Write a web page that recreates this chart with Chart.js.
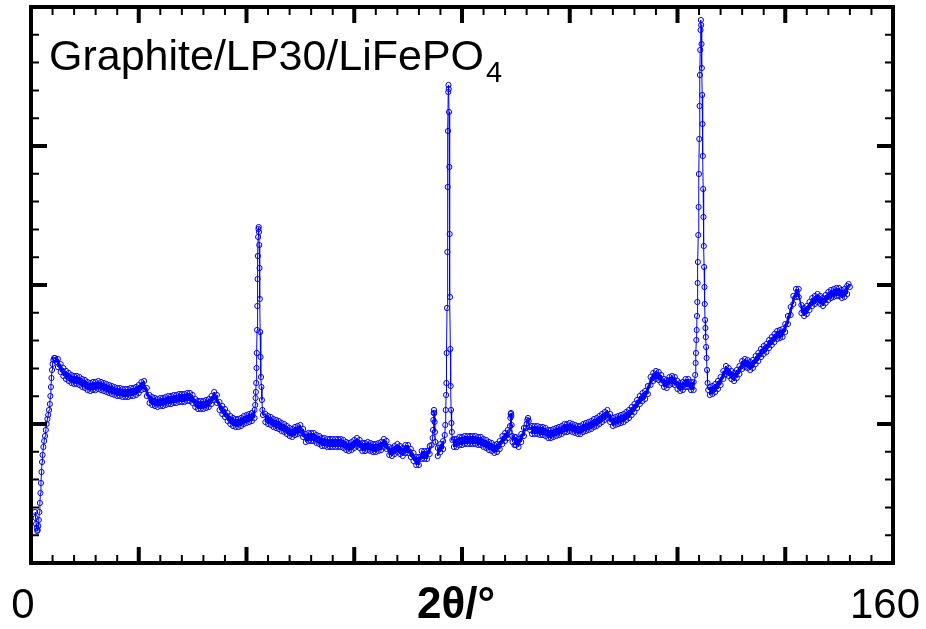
<!DOCTYPE html>
<html>
<head>
<meta charset="utf-8">
<title>Graphite/LP30/LiFePO4</title>
<script src="https://cdn.jsdelivr.net/npm/chart.js@4.4.1/dist/chart.umd.min.js"></script>
<style>
  html, body { margin: 0; padding: 0; background: #fff; }
  #wrap { width: 926px; height: 629px; }
</style>
</head>
<body>
<div id="wrap"><canvas id="chart" width="926" height="629"></canvas></div>
<script>
// 2theta (deg) and intensity (counts).
// Sharp parts are [2theta, counts]; the noisy background is read as
// [2theta, top of band, bottom of band].
const onset = [
  [0.75, 510], [0.85, 450], [0.95, 390], [1.05, 350], [1.15, 320], [1.25, 330], [1.35, 370],
  [1.45, 430], [1.55, 510], [1.65, 600], [1.75, 700], [1.85, 800], [1.95, 910], [2.05, 1010],
  [2.15, 1080], [2.3, 1160], [2.45, 1220], [2.6, 1270], [2.75, 1330], [2.9, 1390], [3.05, 1440],
  [3.2, 1480], [3.35, 1530], [3.5, 1590], [3.6, 1670], [3.7, 1760], [3.8, 1850], [3.9, 1930],
  [4.0, 1990], [4.15, 2030], [4.3, 2050], [4.45, 2050], [4.6, 2030], [4.8, 2010]
];
const bandA = [
  [5, 2040, 1960], [5.5, 1990, 1910], [6, 1950, 1870], [6.5, 1920, 1840], [7, 1900, 1820], [7.5, 1880, 1800],
  [8, 1870, 1790], [8.5, 1870, 1790], [9, 1860, 1780], [9.5, 1840, 1760], [10, 1830, 1750], [10.5, 1810, 1730],
  [11, 1800, 1720], [11.5, 1810, 1730], [12, 1810, 1730], [12.5, 1820, 1740], [13, 1810, 1730], [13.5, 1800, 1720],
  [14, 1790, 1710], [14.5, 1780, 1700], [15, 1770, 1690], [15.5, 1760, 1680], [16, 1750, 1670], [16.5, 1750, 1670],
  [17, 1740, 1660], [17.5, 1740, 1660], [18, 1740, 1660], [18.5, 1750, 1670], [19, 1750, 1670], [19.5, 1760, 1680],
  [20, 1780, 1700], [20.5, 1810, 1730], [21, 1820, 1740], [21.5, 1750, 1670], [22, 1680, 1600], [22.5, 1660, 1580],
  [23, 1650, 1570], [23.5, 1640, 1560], [24, 1650, 1570], [24.5, 1650, 1570], [25, 1660, 1580], [25.5, 1670, 1590],
  [26, 1670, 1590], [26.5, 1680, 1600], [27, 1680, 1600], [27.5, 1690, 1610], [28, 1690, 1610], [28.5, 1690, 1610],
  [29, 1700, 1620], [29.5, 1700, 1620], [30, 1680, 1600], [30.5, 1640, 1560], [31, 1620, 1540], [31.5, 1620, 1540],
  [32, 1620, 1540], [32.5, 1630, 1550], [33, 1640, 1560], [33.5, 1670, 1590], [34, 1710, 1630], [34.5, 1680, 1600],
  [35, 1610, 1530], [35.5, 1570, 1490], [36, 1540, 1460], [36.5, 1500, 1420], [37, 1470, 1390], [37.5, 1450, 1370],
  [38, 1440, 1360], [38.5, 1440, 1360], [39, 1450, 1370], [39.5, 1470, 1390], [40, 1480, 1400], [40.5, 1490, 1410],
  [41, 1500, 1420], [41.5, 1530, 1450]
];
const peak42 = [
  [41.62, 1580], [41.68, 1650], [41.74, 1710], [41.8, 1800], [41.86, 1950], [41.91, 2100], [41.96, 2330],
  [42.01, 2570], [42.06, 2840], [42.11, 3070], [42.16, 3260], [42.22, 3340], [42.27, 3360], [42.32, 3310],
  [42.37, 3180], [42.42, 2950], [42.48, 2640], [42.54, 2310], [42.61, 2060], [42.69, 1860], [42.77, 1760],
  [42.86, 1630], [42.95, 1530], [43.05, 1480]
];
const bandB = [
  [43.5, 1490, 1410], [44, 1470, 1390], [44.5, 1460, 1380], [45, 1440, 1360], [45.5, 1430, 1350], [46, 1420, 1340],
  [46.5, 1400, 1320], [47, 1390, 1310], [47.5, 1370, 1290], [48, 1350, 1270], [48.5, 1340, 1260], [49, 1360, 1280],
  [49.5, 1370, 1290], [50, 1380, 1300], [50.5, 1340, 1260], [51, 1290, 1210], [51.5, 1300, 1220], [52, 1300, 1220],
  [52.5, 1300, 1220], [53, 1280, 1200], [53.5, 1270, 1190], [54, 1250, 1170], [54.5, 1250, 1170], [55, 1240, 1160],
  [55.5, 1240, 1160], [56, 1240, 1160], [56.5, 1240, 1160], [57, 1240, 1160], [57.5, 1240, 1160], [58, 1230, 1150],
  [58.5, 1210, 1130], [59, 1200, 1120], [59.5, 1210, 1130], [60, 1230, 1150], [60.5, 1250, 1170], [61, 1230, 1150],
  [61.5, 1200, 1120], [62, 1200, 1120], [62.5, 1210, 1130], [63, 1200, 1120], [63.5, 1190, 1110], [64, 1190, 1110],
  [64.5, 1200, 1120], [65, 1210, 1130], [65.5, 1240, 1160], [66, 1220, 1140], [66.5, 1160, 1080], [67, 1150, 1070],
  [67.5, 1170, 1090], [68, 1190, 1110], [68.5, 1170, 1090], [69, 1150, 1070], [69.5, 1180, 1100], [70, 1180, 1100],
  [70.5, 1140, 1060], [71, 1100, 1020], [71.5, 1060, 980], [72, 1060, 980], [72.5, 1120, 1040], [73, 1120, 1040],
  [73.5, 1120, 1040], [74, 1170, 1090]
];
const peak75 = [
  [74.35, 1180], [74.55, 1250], [74.62, 1330], [74.68, 1430], [74.74, 1500], [74.8, 1530], [74.86, 1500],
  [74.92, 1410], [74.98, 1310], [75.05, 1210]
];
const bandC = [[75.5, 1150, 1070], [76, 1190, 1110], [76.5, 1220, 1140]];
const peak77 = [
  [76.8, 1280], [76.9, 1380], [76.98, 1530], [77.05, 1680], [77.1, 1800], [77.15, 2100], [77.22, 2550],
  [77.28, 3110], [77.34, 3760], [77.4, 4320], [77.45, 4710], [77.49, 4780], [77.54, 4740], [77.59, 4510],
  [77.65, 3960], [77.71, 3290], [77.77, 2660], [77.84, 2140], [77.9, 1770], [77.97, 1530], [78.04, 1400],
  [78.12, 1310], [78.22, 1230]
];
const bandD = [
  [78.5, 1240, 1160], [79, 1240, 1160], [79.5, 1260, 1180], [80, 1260, 1180], [80.5, 1270, 1190], [81, 1270, 1190],
  [81.5, 1270, 1190], [82, 1270, 1190], [82.5, 1270, 1190], [83, 1260, 1180], [83.5, 1260, 1180], [84, 1240, 1160],
  [84.5, 1230, 1150], [85, 1210, 1130], [85.5, 1200, 1120], [86, 1180, 1100], [86.5, 1190, 1110], [87, 1220, 1140],
  [87.5, 1270, 1190], [88, 1300, 1220], [88.5, 1330, 1250]
];
const peak89 = [
  [88.85, 1310], [88.92, 1370], [88.98, 1450], [89.04, 1490], [89.1, 1500], [89.16, 1470], [89.22, 1380],
  [89.3, 1270], [89.38, 1210]
];
const bandE = [[89.75, 1260, 1180], [90, 1260, 1180], [90.5, 1240, 1160], [91, 1290, 1210], [91.5, 1350, 1270]];
const peak92 = [
  [91.85, 1350], [92, 1390], [92.12, 1430], [92.25, 1450], [92.38, 1420], [92.5, 1360], [92.65, 1330]
];
const bandF = [
  [93, 1370, 1290], [93.5, 1370, 1290], [94, 1370, 1290], [94.5, 1360, 1280], [95, 1360, 1280], [95.5, 1350, 1270],
  [96, 1330, 1250], [96.5, 1330, 1250], [97, 1340, 1260], [97.5, 1350, 1270], [98, 1360, 1280], [98.5, 1370, 1290],
  [99, 1390, 1310], [99.5, 1390, 1310], [100, 1400, 1320], [100.5, 1390, 1310], [101, 1380, 1300], [101.5, 1370, 1290],
  [102, 1370, 1290], [102.5, 1390, 1310], [103, 1400, 1320], [103.5, 1410, 1330], [104, 1420, 1340], [104.5, 1440, 1360],
  [105, 1450, 1370], [105.5, 1470, 1390], [106, 1490, 1410], [106.5, 1510, 1430], [107, 1530, 1450], [107.5, 1490, 1410],
  [108, 1450, 1370], [108.5, 1460, 1380], [109, 1470, 1390], [109.5, 1480, 1400], [110, 1490, 1410], [110.5, 1510, 1430],
  [111, 1530, 1450], [111.5, 1560, 1480], [112, 1590, 1510], [112.5, 1630, 1550], [113, 1670, 1590], [113.5, 1700, 1620],
  [114, 1720, 1640], [114.5, 1770, 1690], [115, 1860, 1780], [115.5, 1900, 1820], [116, 1920, 1840], [116.5, 1910, 1830],
  [117, 1880, 1800], [117.5, 1840, 1760], [118, 1830, 1750], [118.5, 1860, 1780], [119, 1870, 1790], [119.5, 1860, 1780],
  [120, 1820, 1740], [120.5, 1800, 1720], [121, 1810, 1730], [121.5, 1840, 1760], [122, 1840, 1760], [122.5, 1810, 1730],
  [123, 1810, 1730]
];
const peak124 = [
  [123.28, 1880], [123.36, 2000], [123.43, 2100], [123.5, 2230], [123.56, 2330], [123.62, 2470], [123.68, 2610],
  [123.74, 2800], [123.79, 3010], [123.86, 3280], [123.92, 3560], [123.98, 3890], [124.04, 4240], [124.1, 4570],
  [124.16, 4880], [124.22, 5130], [124.28, 5330], [124.34, 5430], [124.4, 5380], [124.46, 5190], [124.52, 4950],
  [124.58, 4680], [124.64, 4390], [124.7, 4070], [124.76, 3740], [124.82, 3460], [124.88, 3170], [124.94, 2960],
  [125, 2760], [125.06, 2590], [125.12, 2430], [125.18, 2350], [125.25, 2260], [125.32, 2160], [125.4, 2050],
  [125.48, 1930], [125.58, 1800], [125.7, 1730]
];
const bandG = [
  [126, 1760, 1680], [126.5, 1770, 1690], [127, 1790, 1710], [127.5, 1820, 1740], [128, 1860, 1780], [128.5, 1920, 1840],
  [129, 1970, 1890], [129.5, 1950, 1870], [130, 1920, 1840], [130.5, 1900, 1820], [131, 1930, 1850], [131.5, 1970, 1890],
  [132, 2020, 1940], [132.5, 2040, 1960], [133, 2030, 1950], [133.5, 2010, 1930], [134, 2030, 1950], [134.5, 2070, 1990],
  [135, 2100, 2020], [135.5, 2140, 2060], [136, 2170, 2090], [136.5, 2190, 2110], [137, 2230, 2150], [137.5, 2260, 2180],
  [138, 2290, 2210], [138.5, 2320, 2240], [139, 2330, 2250], [139.5, 2340, 2260], [140, 2390, 2310], [140.5, 2470, 2390],
  [141, 2560, 2480], [141.5, 2670, 2590], [142, 2740, 2660], [142.5, 2740, 2660], [143, 2580, 2500], [143.5, 2550, 2470],
  [144, 2570, 2490], [144.5, 2610, 2530], [145, 2650, 2570], [145.5, 2670, 2590], [146, 2690, 2610], [146.5, 2670, 2590],
  [147, 2650, 2570], [147.5, 2680, 2600], [148, 2710, 2630], [148.5, 2730, 2650], [149, 2740, 2660], [149.5, 2750, 2670],
  [150, 2750, 2670], [150.5, 2730, 2650], [151, 2740, 2660], [151.5, 2770, 2690]
];
const tail = [[151.75, 2790], [152, 2760]];

const xLimits = [0, 160];
const xTickLabels = [0, 160];
const yLimits = [0, 5560];
const xMajor = 20, xMinor = 4;
const yMajor = 1390, yMinor = 278;
const sampleName = "Graphite/LP30/LiFePO";
const sampleSub = "4";
const xTitle = "2θ/°";

const BLUE = "#0000ff";
const FONT = "'Liberation Sans', Arial, Helvetica, sans-serif";

const pairs = (seg) => seg.map(([x, y]) => ({ x, y }));
const band = (seg) => seg.flatMap(([x, top, bottom]) => [{ x, y: top }, { x, y: bottom }]);

const bands = [bandA, bandB, bandC, bandD, bandE, bandF, bandG];

const scan = [
  ...pairs(onset), ...band(bandA), ...pairs(peak42), ...band(bandB), ...pairs(peak75),
  ...band(bandC), ...pairs(peak77), ...band(bandD), ...pairs(peak89), ...band(bandE),
  ...pairs(peak92), ...band(bandF), ...pairs(peak124), ...band(bandG), ...pairs(tail)
];

// the overlapping markers of the noisy background read as a solid band,
// so fill between the top and bottom readings of each band
const bandFills = bands.flatMap((seg) => [
  {
    data: seg.map(([x, top]) => ({ x, y: top })),
    fill: "+1",
    backgroundColor: "rgba(0, 0, 255, 0.9)",
    borderWidth: 0,
    pointRadius: 0
  },
  {
    data: seg.map(([x, , bottom]) => ({ x, y: bottom })),
    fill: false,
    borderWidth: 0,
    pointRadius: 0
  }
]);

// box with inward ticks on all four sides, labels drawn on the bottom row
const framePlugin = {
  id: "frame",
  afterDatasetsDraw(chart) {
    const { ctx, chartArea: a, scales } = chart;
    const x = scales.x, y = scales.y;
    ctx.save();
    ctx.strokeStyle = "#000";
    ctx.fillStyle = "#000";
    ctx.lineCap = "butt";

    for (let v = xLimits[0]; v <= xLimits[1]; v += xMinor) {
      const px = x.getPixelForValue(v);
      const major = v % xMajor === 0;
      const len = major ? 16 : 8;
      ctx.lineWidth = major ? 4 : 2;
      ctx.beginPath();
      ctx.moveTo(px, a.bottom); ctx.lineTo(px, a.bottom - len);
      ctx.moveTo(px, a.top); ctx.lineTo(px, a.top + len);
      ctx.stroke();
    }
    for (let v = yLimits[0]; v <= yLimits[1]; v += yMinor) {
      const py = y.getPixelForValue(v);
      const major = v % yMajor === 0;
      const len = major ? 16 : 8;
      ctx.lineWidth = major ? 4 : 2;
      ctx.beginPath();
      ctx.moveTo(a.left, py); ctx.lineTo(a.left + len, py);
      ctx.moveTo(a.right, py); ctx.lineTo(a.right - len, py);
      ctx.stroke();
    }

    ctx.lineWidth = 4;
    ctx.strokeRect(a.left, a.top, a.right - a.left, a.bottom - a.top);

    ctx.textBaseline = "alphabetic";
    ctx.textAlign = "center";
    ctx.font = "42px " + FONT;
    xTickLabels.forEach((v) => {
      ctx.fillText(String(v), x.getPixelForValue(v) - 8, a.bottom + 55);
    });
    ctx.font = "bold 44px " + FONT;
    ctx.fillText(xTitle, (a.left + a.right) / 2 - 6, a.bottom + 55);

    ctx.textAlign = "left";
    ctx.font = "43px " + FONT;
    ctx.fillText(sampleName, a.left + 18, a.top + 63);
    const w = ctx.measureText(sampleName).width;
    ctx.font = "29px " + FONT;
    ctx.fillText(sampleSub, a.left + 18 + w + 2, a.top + 75);
    ctx.restore();
  }
};

new Chart(document.getElementById("chart"), {
  type: "line",
  data: {
    datasets: [{
      label: "Graphite/LP30/LiFePO4",
      data: scan,
      borderColor: BLUE,
      borderWidth: 1,
      pointStyle: "circle",
      pointRadius: 2.6,
      pointBorderWidth: 1,
      pointBorderColor: BLUE,
      pointBackgroundColor: "rgba(0,0,0,0)",
      tension: 0,
      fill: false
    }, ...bandFills]
  },
  options: {
    responsive: false,
    animation: false,
    devicePixelRatio: 1,
    layout: { padding: { left: 31, right: 33, top: 7, bottom: 66 } },
    scales: {
      x: { type: "linear", min: xLimits[0], max: xLimits[1], display: false },
      y: { type: "linear", min: yLimits[0], max: yLimits[1], display: false }
    },
    plugins: {
      legend: { display: false },
      tooltip: { enabled: false }
    }
  },
  plugins: [framePlugin]
});
</script>
</body>
</html>
